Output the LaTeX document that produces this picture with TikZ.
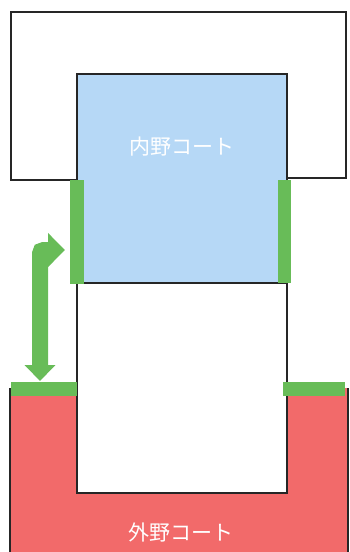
\documentclass[tikz,border=0pt]{standalone}
\usepackage{fontspec}
\newfontfamily\jpfont{Noto Sans CJK JP}
\usetikzlibrary{arrows.meta}
\definecolor{courtblue}{HTML}{B6D8F6}
\definecolor{courtred}{HTML}{F26A6A}
\definecolor{courtgreen}{HTML}{68BC58}
\tikzset{
  edge/.style={draw=black!85, line width=2.6pt, line join=miter},
  bar/.style={fill=courtgreen, draw=none},
  label/.style={text=white, font=\jpfont\fontsize{21}{21}\selectfont, inner sep=0pt},
  movearrow/.style={draw=courtgreen, line width=16pt,
    {Triangle[length=16pt,width=30pt]}-{Triangle[length=17pt,width=33pt]}}
}
\begin{document}
\begin{tikzpicture}[x=1pt,y=-1pt]
\useasboundingbox (0,0) rectangle (350,552);
% outer court (red)
\fill[courtred] (10,388) -- (77,388) -- (77,493) -- (287,493) -- (287,388) -- (348,388) -- (348,552) -- (10,552) -- cycle;
\draw[edge] (10,388) -- (10,552);
\draw[edge] (348,388) -- (348,552);
% middle white area
\draw[edge] (77,283) -- (77,493) -- (287,493) -- (287,283);
% top white shape
\draw[edge] (77,180) -- (11,180) -- (11,12) -- (346,12) -- (346,178) -- (287,178);
% inner court (blue)
\filldraw[fill=courtblue, edge] (77,74) rectangle (287,283);
% green bars
\fill[bar] (70,180) rectangle (84,284);
\fill[bar] (278,180) rectangle (291,283);
\fill[bar] (11,382) rectangle (77,396);
\fill[bar] (283,382) rectangle (345,396);
% labels
\node[label] (inner) at (182,147) {内野コート};
\node[label] (outer) at (181,532) {外野コート};
% arrow
\coordinate (down) at (40,381);
\coordinate (right) at (65,250);
\draw[movearrow] (down) -- (40,258) .. controls (40,250) .. (48,250) -- (right);
\end{tikzpicture}
\end{document}
